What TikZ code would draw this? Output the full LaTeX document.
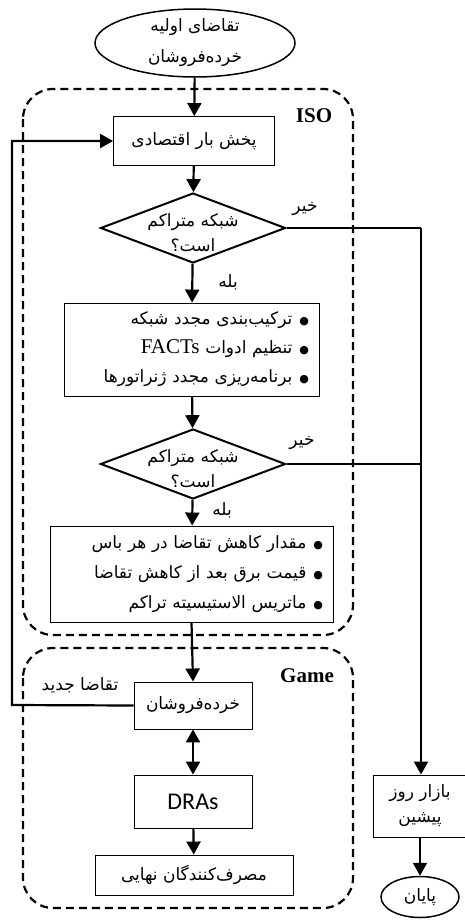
\documentclass[tikz,border=0pt]{standalone}
\usepackage{fontspec}
\setmainfont{Liberation Serif}
\newfontfamily\fafont[Script=Arabic]{DejaVu Sans}
\newfontfamily\calfont{Carlito}
\TeXXeTstate=1
\usetikzlibrary{arrows.meta,shapes.geometric}
\newcommand\fatext[1]{{\fafont\beginR #1\endR}}
\newcommand\blt{{\fontsize{11}{11}\selectfont ●}\hskip 7pt}
\begin{document}
\begin{tikzpicture}[x=1pt,y=-1pt]
\tikzset{
  fa/.style={font=\fafont\fontsize{17}{25}\selectfont},
  box/.style={draw, line width=0.9pt, inner sep=0pt, fa, align=center},
  dia/.style={diamond, draw, line width=2pt, inner sep=0pt, minimum width=185pt, minimum height=70pt, shape aspect=2.6},
  diatext/.style={fa, align=center, inner sep=0pt},
  oval/.style={ellipse, draw, line width=1.5pt, inner sep=0pt, fa, align=center},
  arr/.style={line width=2.2pt, -{Triangle[width=14pt,length=13pt]}},
  dbl/.style={line width=2.2pt, {Triangle[width=14pt,length=13pt]}-{Triangle[width=14pt,length=13pt]}},
  plain/.style={line width=2.2pt},
  dbox/.style={line width=2.2pt, dash pattern=on 8pt off 5pt, rounded corners=30pt},
  lbl/.style={fa, inner sep=0pt},
  title/.style={font=\bfseries\fontsize{21}{21}\selectfont, inner sep=0pt}
}
\useasboundingbox (0,0) rectangle (464,922);

% dashed groups
\draw[dbox] (23,89) rectangle (353,635);
\draw[dbox] (23,648) rectangle (353,908);
\node[title] (isol) at (314,116) {ISO};
\node[title] (gamel) at (307,676) {Game};

% nodes
\node[oval, minimum width=200pt, minimum height=63pt, font=\fafont\fontsize{17}{31}\selectfont] (start) at (195,43) {\fatext{تقاضای اولیه}\\\fatext{خرده‌فروشان}};
\node[box, minimum width=161pt, minimum height=49pt] (eld) at (194,141) {\fatext{پخش بار اقتصادی}};
\node[dia] (d1) at (193,228) {};
\node[diatext] (d1t) at (193,232.5) {\fatext{شبکه متراکم}\\\fatext{است؟}};
\node[box, minimum height=93pt, text width=235pt, inner xsep=10pt, align=right, font=\fafont\fontsize{17}{29}\selectfont] (l1) at (191.5,349.5)
 {\fatext{\blt ترکیب‌بندی مجدد شبکه}\\
  \fatext{\blt تنظیم ادوات {\rmfamily\fontsize{21}{21}\selectfont\beginL FACTs\endL}}\\
  \fatext{\blt برنامه‌ریزی مجدد ژنراتورها}};
\node[dia] (d2) at (193,464) {};
\node[diatext] (d2t) at (193,468.5) {\fatext{شبکه متراکم}\\\fatext{است؟}};
\node[box, minimum height=96pt, text width=263pt, inner xsep=10pt, align=right, font=\fafont\fontsize{17}{30}\selectfont] (l2) at (191.5,574)
 {\fatext{\blt مقدار کاهش تقاضا در هر باس}\\
  \fatext{\blt قیمت برق بعد از کاهش تقاضا}\\
  \fatext{\blt ماتریس الاستیسیته تراکم}};
\node[box, minimum width=118pt, minimum height=47pt] (retail) at (193,705.5) {\fatext{خرده‌فروشان}};
\node[box, minimum width=118pt, minimum height=53pt, font=\calfont\fontsize{24}{24}\selectfont] (dras) at (193,801.5) {DRAs};
\node[box, minimum width=198pt, minimum height=40pt] (cons) at (194,875) {\fatext{مصرف‌کنندگان نهایی}};
\node[box, minimum width=94pt, minimum height=62pt] (market) at (420,806) {\fatext{بازار روز}\\\fatext{پیشین}};
\node[oval, minimum width=78pt, minimum height=41pt] (endn) at (420,897) {\fatext{پایان}};

% labels
\node[lbl] (no1) at (305,209) {\fatext{خیر}};
\node[lbl] (yes1) at (228,282) {\fatext{بله}};
\node[lbl] (no2) at (302,443) {\fatext{خیر}};
\node[lbl] (yes2) at (222,510) {\fatext{بله}};
\node[lbl] (newd) at (80,685) {\fatext{تقاضا جدید}};

% helper coordinates
\coordinate (r1) at (421,228);
\coordinate (lft) at (12,705);

% connectors
\draw[arr] (start) -- (eld);
\draw[arr] (eld) -- (d1);
\draw[arr] (d1) -- (l1);
\draw[arr] (l1) -- (d2);
\draw[arr] (d2) -- (l2);
\draw[arr] (l2.south) -- (retail.north);
\draw[dbl] (retail) -- (dras);
\draw[arr] (dras) -- (cons);
\draw[plain] (d1.east) -- (r1);
\draw[plain] (d2.east) -- (d2.east -| r1);
\draw[arr] (r1) -- (r1 |- market.north);
\draw[arr] (market) -- (endn);
\draw[arr] (retail.west) -- (lft) -- (lft |- eld.west) -- (eld.west);
\end{tikzpicture}
\end{document}
